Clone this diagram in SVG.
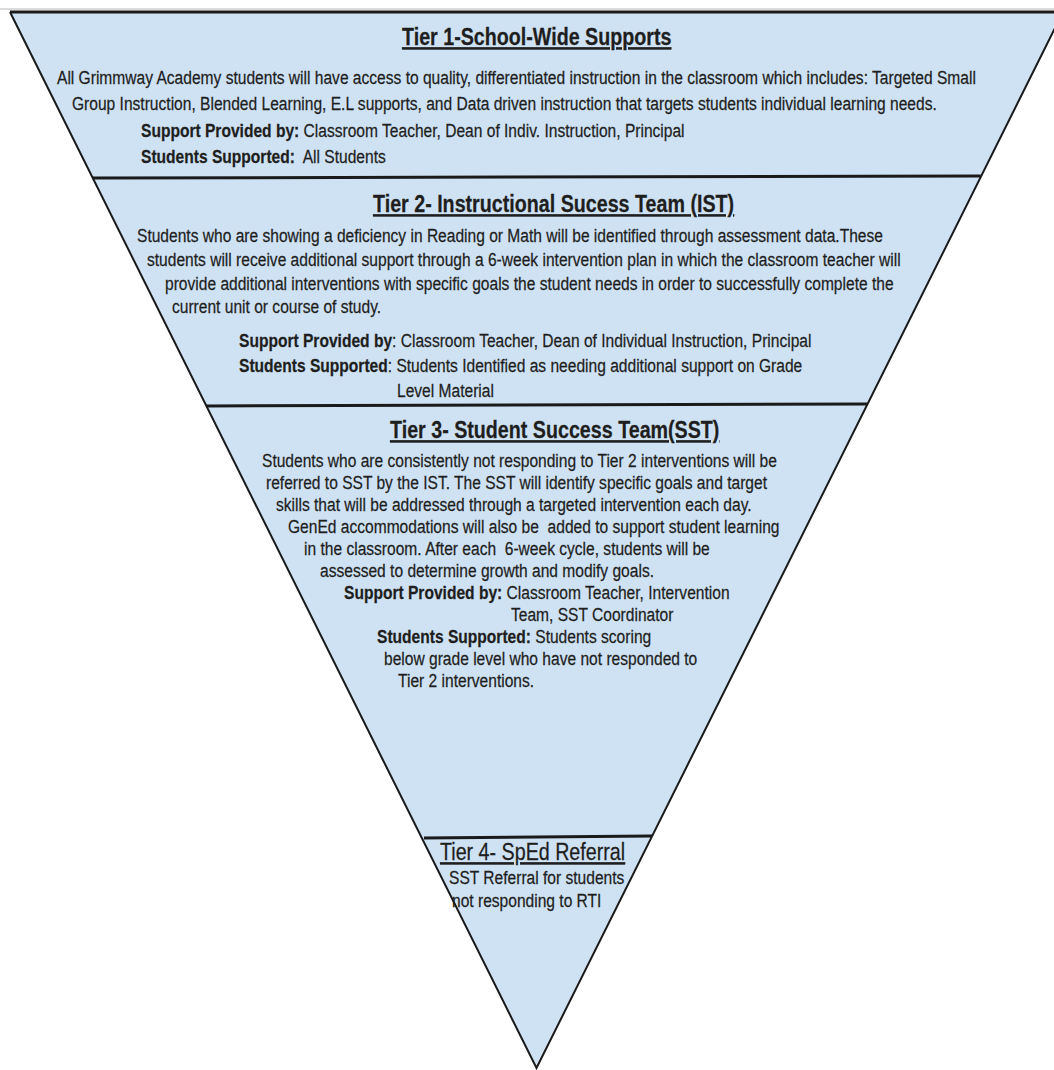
<svg xmlns="http://www.w3.org/2000/svg" width="1054" height="1070" viewBox="0 0 1054 1070">
<style>
text{font-family:'Liberation Sans',Arial,sans-serif;font-size:19px;fill:#1e1e1e;stroke:#1e1e1e;stroke-width:.25}
.t{font-size:24px;font-weight:bold;text-decoration:underline}
.t4{font-size:24px;text-decoration:underline}
.b{font-weight:bold}
.tier{fill:#cfe2f3;stroke:none}
.edge{fill:none;stroke:#1a1a1a;stroke-width:2;stroke-linejoin:miter}
.sep{stroke:#1a1a1a;stroke-width:3}
</style>
<rect width="1054" height="1070" fill="#ffffff"/>
<line x1="0" y1="9" x2="1054" y2="9" stroke="#b8b8b8" stroke-width="1"/>

<g id="tier1">
<polygon class="tier" points="10,12 1063,12 980.7,177 92.3,177"/>
<text class="t" transform="translate(402 45) scale(.82 1)">Tier 1-School-Wide Supports</text>
<text transform="translate(57 84) scale(.82 1)">All Grimmway Academy students will have access to quality, differentiated instruction in the classroom which includes: Targeted Small</text>
<text transform="translate(72 110) scale(.82 1)">Group Instruction, Blended Learning, E.L supports, and Data driven instruction that targets students individual learning needs.</text>
<text transform="translate(141 137) scale(.82 1)"><tspan class="b">Support Provided by:</tspan> Classroom Teacher, Dean of Indiv. Instruction, Principal</text>
<text xml:space="preserve" transform="translate(141 163) scale(.82 1)"><tspan class="b">Students Supported:</tspan>  All Students</text>
</g>

<g id="tier2">
<polygon class="tier" points="92.3,177 980.7,177 867.1,405 205.9,405"/>
<text class="t" transform="translate(373 212) scale(.82 1)">Tier 2- Instructional Sucess Team (IST)</text>
<text transform="translate(137 242) scale(.82 1)">Students who are showing a deficiency in Reading or Math will be identified through assessment data.These</text>
<text transform="translate(147 266) scale(.82 1)">students will receive additional support through a 6-week intervention plan in which the classroom teacher will</text>
<text transform="translate(165 290) scale(.82 1)">provide additional interventions with specific goals the student needs in order to successfully complete the</text>
<text transform="translate(172 313) scale(.82 1)">current unit or course of study.</text>
<text transform="translate(239 347) scale(.82 1)"><tspan class="b">Support Provided by</tspan>: Classroom Teacher, Dean of Individual Instruction, Principal</text>
<text transform="translate(239 372) scale(.82 1)"><tspan class="b">Students Supported</tspan>: Students Identified as needing additional support on Grade</text>
<text transform="translate(397 397) scale(.82 1)">Level Material</text>
</g>

<g id="tier3">
<polygon class="tier" points="205.9,405 867.1,405 651.7,837 421.3,837"/>
<text class="t" transform="translate(390 438) scale(.82 1)">Tier 3- Student Success Team(SST)</text>
<text transform="translate(262 467) scale(.82 1)">Students who are consistently not responding to Tier 2 interventions will be</text>
<text transform="translate(266 489) scale(.82 1)">referred to SST by the IST. The SST will identify specific goals and target</text>
<text transform="translate(276 511) scale(.82 1)">skills that will be addressed through a targeted intervention each day.</text>
<text xml:space="preserve" transform="translate(288 533) scale(.82 1)">GenEd accommodations will also be  added to support student learning</text>
<text xml:space="preserve" transform="translate(304 555) scale(.82 1)">in the classroom. After each  6-week cycle, students will be</text>
<text transform="translate(320 577) scale(.82 1)">assessed to determine growth and modify goals.</text>
<text transform="translate(344 599) scale(.82 1)"><tspan class="b">Support Provided by:</tspan> Classroom Teacher, Intervention</text>
<text transform="translate(511 621) scale(.82 1)">Team, SST Coordinator</text>
<text transform="translate(377 643) scale(.82 1)"><tspan class="b">Students Supported:</tspan> Students scoring</text>
<text transform="translate(384 665) scale(.82 1)">below grade level who have not responded to</text>
<text transform="translate(398 687) scale(.82 1)">Tier 2 interventions.</text>
</g>

<g id="tier4">
<polygon class="tier" points="421.3,837 651.7,837 536.5,1068"/>
<text class="t4" transform="translate(440 860) scale(.82 1)">Tier 4- SpEd Referral</text>
<text transform="translate(449 884) scale(.82 1)">SST Referral for students</text>
<text transform="translate(452 907) scale(.82 1)">not responding to RTI</text>
</g>

<g id="outline">
<polyline class="edge" points="1063,12 536.5,1068 10,12"/>
<line x1="10" y1="12" x2="1054" y2="12" stroke="#1a1a1a" stroke-width="3"/>
<line class="sep" x1="92.3" y1="178" x2="980.7" y2="176"/>
<line class="sep" x1="205.9" y1="406" x2="867.1" y2="404"/>
<line class="sep" x1="424" y1="838" x2="652" y2="836"/>
</g>
</svg>
